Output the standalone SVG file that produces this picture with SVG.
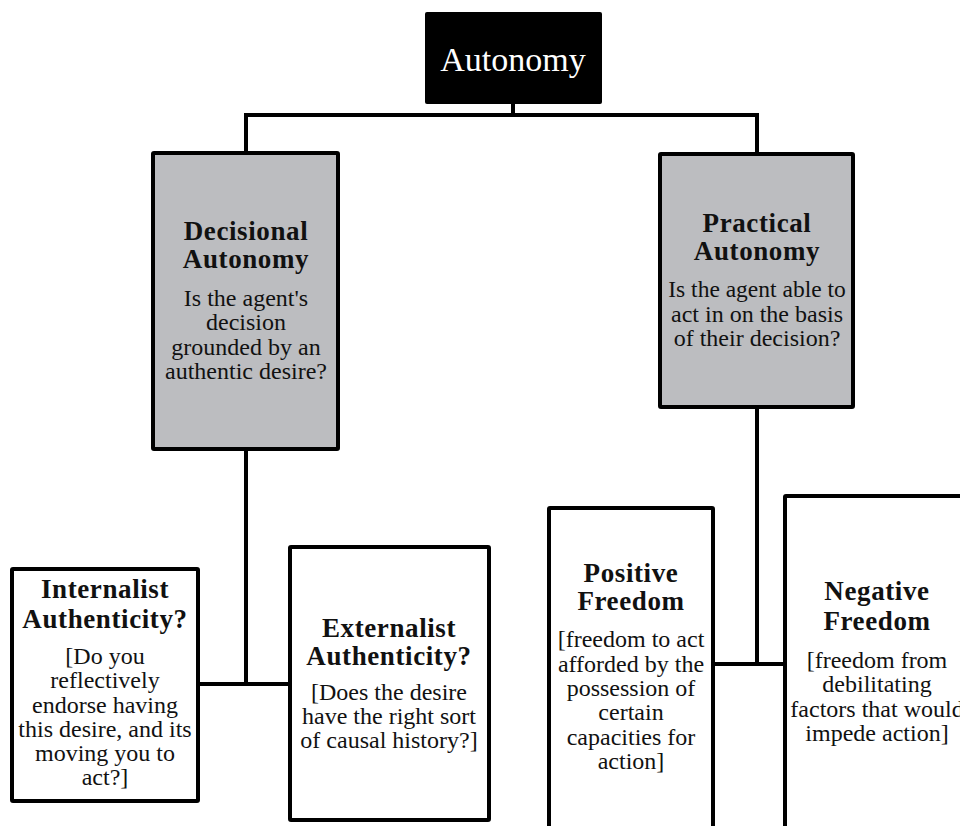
<svg xmlns="http://www.w3.org/2000/svg" width="960" height="826" viewBox="0 0 960 826">
<style>
.box{fill:#fff;stroke:#000;stroke-width:4;}
.gray{fill:#bcbdc0;stroke:#000;stroke-width:4;}
.conn{fill:none;stroke:#000;stroke-width:4;}
text{font-family:"Liberation Serif","Times New Roman",serif;fill:#111;text-anchor:middle;}
.t{font-weight:bold;font-size:27px;letter-spacing:0.6px;}
.b{font-size:24px;}
</style>
<rect width="960" height="826" fill="#fff"/>
<g id="connectors">
<path class="conn" d="M513 104 V115 M244 115 H759 M246 113 V153 M757 113 V154"/>
<path class="conn" d="M246 450 V684 M198 684 H290"/>
<path class="conn" d="M757 408 V664 M713 664 H785"/>
</g>
<g id="autonomy">
<rect x="425" y="12" width="177" height="92" rx="2" fill="#000"/>
<text x="513" y="71" style="font-size:34px;fill:#fff">Autonomy</text>
</g>
<g id="decisional">
<rect class="gray" x="153" y="153" width="185" height="296" rx="1"/>
<text class="t" x="246" y="240">Decisional</text>
<text class="t" x="246" y="268">Autonomy</text>
<text class="b" x="246" y="306">Is the agent's</text>
<text class="b" x="246" y="330">decision</text>
<text class="b" x="246" y="354.5">grounded by an</text>
<text class="b" x="246" y="379">authentic desire?</text>
</g>
<g id="practical">
<rect class="gray" x="660" y="154" width="193" height="253" rx="1"/>
<text class="t" x="757" y="232">Practical</text>
<text class="t" x="757" y="260">Autonomy</text>
<text class="b" x="757" y="297" style="font-size:23.5px">Is the agent able to</text>
<text class="b" x="757" y="322">act in on the basis</text>
<text class="b" x="757" y="346">of their decision?</text>
</g>
<g id="internalist">
<rect class="box" x="12" y="569" width="186" height="232" rx="1"/>
<text class="t" x="105" y="598">Internalist</text>
<text class="t" x="105" y="628">Authenticity?</text>
<text class="b" x="105" y="664">[Do you</text>
<text class="b" x="105" y="688">reflectively</text>
<text class="b" x="105" y="713">endorse having</text>
<text class="b" x="105" y="737">this desire, and its</text>
<text class="b" x="105" y="761">moving you to</text>
<text class="b" x="105" y="785">act?]</text>
</g>
<g id="externalist">
<rect class="box" x="290" y="547" width="199" height="273" rx="1"/>
<text class="t" x="389" y="637">Externalist</text>
<text class="t" x="389" y="665">Authenticity?</text>
<text class="b" x="389" y="700">[Does the desire</text>
<text class="b" x="389" y="724">have the right sort</text>
<text class="b" x="389" y="748">of causal history?]</text>
</g>
<g id="positive">
<rect class="box" x="549" y="508" width="164" height="340" rx="1"/>
<text class="t" x="631" y="582">Positive</text>
<text class="t" x="631" y="610">Freedom</text>
<text class="b" x="631" y="647">[freedom to act</text>
<text class="b" x="631" y="672">afforded by the</text>
<text class="b" x="631" y="696">possession of</text>
<text class="b" x="631" y="720">certain</text>
<text class="b" x="631" y="745">capacities for</text>
<text class="b" x="631" y="769">action]</text>
</g>
<g id="negative">
<rect class="box" x="785" y="496" width="184" height="360" rx="1"/>
<text class="t" x="877" y="600">Negative</text>
<text class="t" x="877" y="630">Freedom</text>
<text class="b" x="877" y="668">[freedom from</text>
<text class="b" x="877" y="692">debilitating</text>
<text class="b" x="877" y="717">factors that would</text>
<text class="b" x="877" y="741">impede action]</text>
</g>
</svg>
